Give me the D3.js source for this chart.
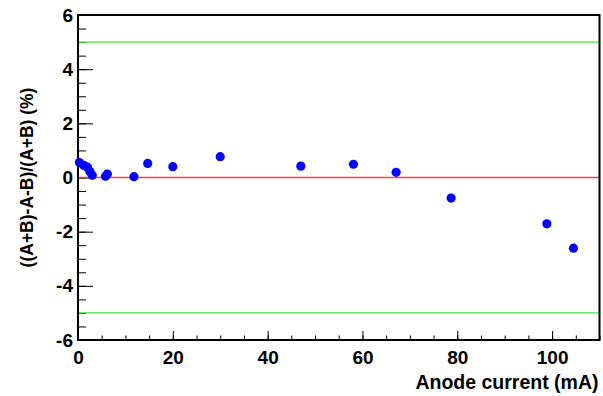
<!DOCTYPE html>
<html>
<head>
<meta charset="utf-8">
<script src="https://cdn.jsdelivr.net/npm/d3@7"></script>
<style>
  body { margin: 0; background: #fff; }
  text { font-family: "Liberation Sans", Arial, Helvetica, sans-serif; font-weight: bold; }
</style>
</head>
<body>
<div id="chart"></div>
<script>
// anode current (mA) and asymmetry (%)
const current = [0.3, 1.2, 2.0, 2.5, 3.0, 5.8, 6.2, 11.8, 14.7, 20.0, 30.0, 47.0, 58.1, 67.1, 78.7, 98.9, 104.5];
const asym    = [0.55, 0.45, 0.38, 0.22, 0.08, 0.05, 0.13, 0.03, 0.52, 0.40, 0.77, 0.42, 0.49, 0.19, -0.76, -1.71, -2.61];
const xTicks = [0, 20, 40, 60, 80, 100];
const yTicks = [-6, -4, -2, 0, 2, 4, 6];
const limits = [5, -5];

const W = 603, H = 396;
const margin = {top: 15, right: 3.5, bottom: 56, left: 78};
const width = W - margin.left - margin.right;
const height = H - margin.top - margin.bottom;

const svg = d3.select("#chart").append("svg")
    .attr("width", W)
    .attr("height", H);

const g = svg.append("g")
    .attr("transform", `translate(${margin.left},${margin.top})`);

const x = d3.scaleLinear().domain([0, 110]).range([0, width]);
const y = d3.scaleLinear().domain([-6, 6]).range([height, 0]);

// minor ticks
g.append("g")
    .attr("transform", `translate(0,${height})`)
    .call(d3.axisBottom(x).tickValues(d3.range(0, 111, 5)).tickSize(-4.5).tickFormat(""))
    .call(a => a.select(".domain").remove());
g.append("g")
    .call(d3.axisLeft(y).tickValues(d3.range(-6, 6.01, 0.5)).tickSize(-8).tickFormat(""))
    .call(a => a.select(".domain").remove());

// major ticks + labels
g.append("g")
    .attr("class", "x-axis")
    .attr("transform", `translate(0,${height})`)
    .call(d3.axisBottom(x).tickValues(xTicks).tickSize(-9).tickPadding(11).tickFormat(d => String(d)))
    .call(a => a.select(".domain").remove());
g.append("g")
    .attr("class", "y-axis")
    .call(d3.axisLeft(y).tickValues(yTicks).tickSize(-15).tickPadding(5).tickFormat(d => String(d)))
    .call(a => a.select(".domain").remove());

g.selectAll(".tick line").attr("stroke", "#000").attr("stroke-width", 1);
g.selectAll(".x-axis text, .y-axis text")
    .attr("fill", "#000")
    .style("font-size", "19px")
    .style("font-weight", "bold");

// reference lines
g.append("line")
    .attr("x1", 0).attr("x2", width)
    .attr("y1", y(0)).attr("y2", y(0))
    .attr("stroke", "#ff4040").attr("stroke-width", 1.3);
g.selectAll(".limit")
    .data(limits)
    .enter().append("line")
    .attr("class", "limit")
    .attr("x1", 0).attr("x2", width)
    .attr("y1", d => y(d)).attr("y2", d => y(d))
    .attr("stroke", "#44e044").attr("stroke-width", 1.3);

// frame
g.append("rect")
    .attr("width", width).attr("height", height)
    .attr("fill", "none").attr("stroke", "#000").attr("stroke-width", 2);

// points
g.selectAll(".pt")
    .data(current)
    .enter().append("circle")
    .attr("class", "pt")
    .attr("cx", d => x(d))
    .attr("cy", (d, i) => y(asym[i]))
    .attr("r", 4.6)
    .attr("fill", "#0000ff");

// axis titles
svg.append("text")
    .attr("x", margin.left + width - 1)
    .attr("y", 389)
    .attr("text-anchor", "end")
    .style("font-size", "19.5px")
    .text("Anode current (mA)");
svg.append("text")
    .attr("transform", `translate(33,${margin.top + height / 2}) rotate(-90)`)
    .attr("text-anchor", "middle")
    .style("font-size", "17.5px")
    .text("((A+B)-A-B)/(A+B) (%)");
</script>
</body>
</html>
